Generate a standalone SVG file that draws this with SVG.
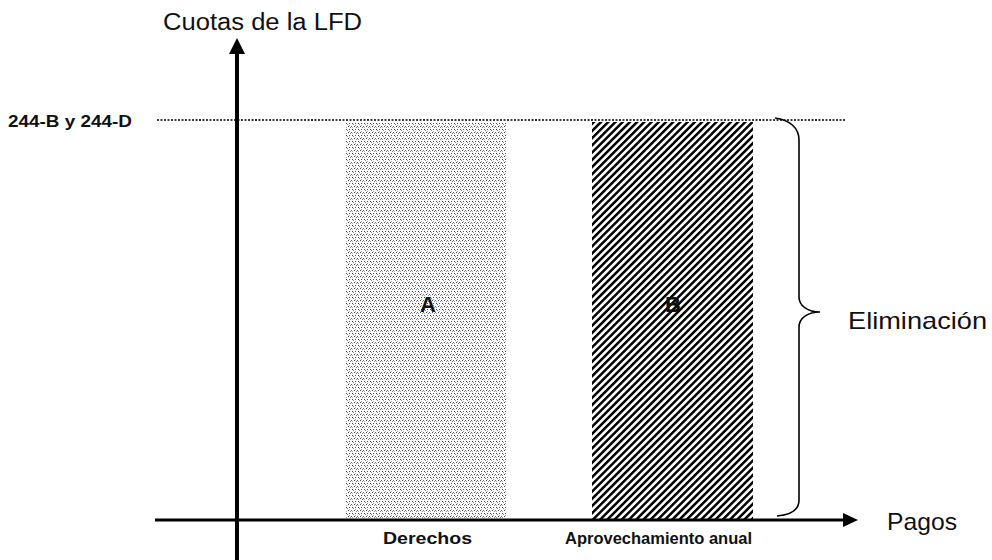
<svg xmlns="http://www.w3.org/2000/svg" width="992" height="560" viewBox="0 0 992 560">
  <style>
    text { font-family: "Liberation Sans", Arial, sans-serif; fill: #111; }
    .axis { stroke: #000; fill: none; }
    .lbl { font-size: 16px; font-weight: bold; }
    .big { font-size: 23px; }
  </style>
  <defs>
    <pattern id="stipple" width="6" height="6" patternUnits="userSpaceOnUse">
      <rect width="6" height="6" fill="#fff"/>
      <rect x="0" y="0" width="1" height="1" fill="#444"/>
      <rect x="3" y="0" width="1" height="1" fill="#666"/>
      <rect x="1" y="3" width="1" height="1" fill="#555"/>
      <rect x="4" y="3" width="1" height="1" fill="#444"/>
      <rect x="2" y="1" width="1" height="1" fill="#888"/>
      <rect x="5" y="4" width="1" height="1" fill="#888"/>
      <rect x="4" y="1" width="1" height="1" fill="#aaa"/>
      <rect x="1" y="5" width="1" height="1" fill="#aaa"/>
    </pattern>
    <pattern id="hatch" width="5.1" height="10" patternUnits="userSpaceOnUse" patternTransform="rotate(45)">
      <rect width="5.1" height="10" fill="#fff"/>
      <rect x="0" y="0" width="2.5" height="10" fill="#000"/>
    </pattern>
  </defs>

  <g id="guide">
    <line x1="157" y1="120" x2="845" y2="120" stroke="#000" stroke-width="1.6" stroke-dasharray="2 1.5"/>
    <text x="8" y="127" font-size="17" font-weight="bold" textLength="124" lengthAdjust="spacingAndGlyphs">244-B y 244-D</text>
  </g>

  <g id="nodeA">
    <rect x="346" y="122" width="160" height="397" fill="url(#stipple)"/>
    <text x="428" y="312" font-size="22" font-weight="bold" text-anchor="middle">A</text>
  </g>

  <g id="nodeB">
    <rect x="592" y="122" width="161" height="397" fill="url(#hatch)"/>
    <text x="673" y="312" font-size="22" font-weight="bold" text-anchor="middle">B</text>
  </g>

  <g id="connectors">
    <line class="axis" x1="237" y1="50" x2="237" y2="560" stroke-width="4"/>
    <polygon points="237,38 229,54 245,54" fill="#000"/>
    <line class="axis" x1="155" y1="520" x2="845" y2="520" stroke-width="3"/>
    <polygon points="858,520 843,513 843,527" fill="#000"/>
    <path class="axis" d="M775,118 C790,120 799,128 799,140 L799,297 C799,306 808,312 820,312 C808,312 799,318 799,327 L799,500 C799,510 790,515 777,516" stroke-width="1.6"/>
  </g>

  <g id="labels">
    <text class="big" x="163" y="30" textLength="199" lengthAdjust="spacingAndGlyphs">Cuotas de la LFD</text>
    <text x="848" y="329" font-size="24" textLength="139" lengthAdjust="spacingAndGlyphs">Eliminación</text>
    <text x="887" y="530" font-size="24" textLength="70" lengthAdjust="spacingAndGlyphs">Pagos</text>
    <text class="lbl" x="383" y="544" textLength="89" lengthAdjust="spacingAndGlyphs">Derechos</text>
    <text class="lbl" x="565" y="544" textLength="187" lengthAdjust="spacingAndGlyphs">Aprovechamiento anual</text>
  </g>
</svg>
